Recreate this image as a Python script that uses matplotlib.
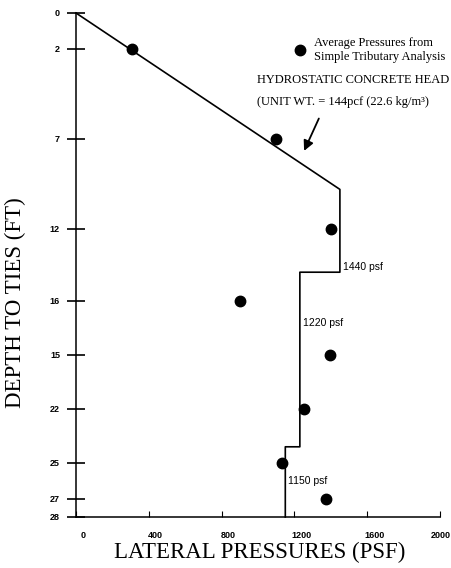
import matplotlib
matplotlib.use("Agg")
import matplotlib.pyplot as plt
import matplotlib.transforms as mtransforms

# measured tie pressures (psf) vs depth (ft)
depths = [2, 7, 12, 16, 19, 22, 25, 27]
pressures = [310, 1100, 1400, 900, 1395, 1250, 1130, 1375]

# design envelope: hydrostatic to ~1440 psf, then stepped
env_press = [0, 1450, 1450, 1230, 1230, 1150, 1150]
env_depth = [0, 9.8, 14.4, 14.4, 24.1, 24.1, 28]

yticks = [0, 2, 7, 12, 16, 19, 22, 25, 27, 28]
ytick_labels = ["0", "2", "7", "12", "16", "15", "22", "25", "27", "28"]
xticks = [0, 400, 800, 1200, 1600, 2000]

W, H = 452, 568
fig = plt.figure(figsize=(W / 100, H / 100), dpi=100)
ax = fig.add_axes([76 / W, 1 - 517 / H, 364 / W, 504 / H])

ax.plot(env_press, env_depth, color="black", lw=1.2, clip_on=False)
pts, = ax.plot(pressures, depths, "o", color="black", ms=7.5, clip_on=False,
               label="Average Pressures from\nSimple Tributary Analysis")

ax.set_xlim(0, 2000)
ax.set_ylim(28, 0)
for s in ["top", "right"]:
    ax.spines[s].set_visible(False)
for s in ["left", "bottom"]:
    ax.spines[s].set_linewidth(1.1)

ax.set_yticks(yticks)
ax.set_yticklabels(ytick_labels, fontfamily="Liberation Sans", fontweight="bold", fontsize=6.5)
ax.set_xticks(xticks)
ax.set_xticklabels([str(v) for v in xticks], fontfamily="Liberation Sans", fontweight="bold", fontsize=6.5)
ax.tick_params(axis="y", direction="inout", length=13, width=1.2, pad=5)
ax.tick_params(axis="x", direction="in", length=4, width=0.8, pad=10)
labs = ax.get_xticklabels()
for i, lab in enumerate(labs):
    dx = 7 if i < len(labs) - 1 else 1
    shift = mtransforms.ScaledTranslation(dx / 100, 0, fig.dpi_scale_trans)
    lab.set_transform(lab.get_transform() + shift)

fig.text(260 / W, 1 - 552 / H, "LATERAL PRESSURES (PSF)", family="Liberation Serif",
         fontsize=16.5, ha="center", va="center")
fig.text(15 / W, 1 - 303 / H, "DEPTH TO TIES (FT)", family="Liberation Serif",
         fontsize=16.5, ha="center", va="center", rotation=90)

fig.legend(handles=[pts], loc="center left", bbox_to_anchor=(294 / W, 1 - 50 / H),
           frameon=False, prop={"family": "Liberation Serif", "size": 9},
           handletextpad=0.6, handlelength=1.0, borderaxespad=0, borderpad=0)

fig.text(257 / W, 1 - 80 / H, "HYDROSTATIC CONCRETE HEAD", family="Liberation Serif",
         fontsize=9, ha="left", va="center")
fig.text(257 / W, 1 - 102 / H, "(UNIT WT. = 144pcf (22.6 kg/m\u00b3)", family="Liberation Serif",
         fontsize=9, ha="left", va="center")
ax.annotate("", xy=(1247, 7.8), xytext=(320 / W, 1 - 116 / H), textcoords="figure fraction",
            arrowprops=dict(arrowstyle="-|>", color="black", lw=1.3, mutation_scale=15))

for p, d, txt in [(1450, 14.1, "1440 psf"), (1230, 17.2, "1220 psf"), (1150, 26.0, "1150 psf")]:
    ax.annotate(txt, xy=(p, d), xytext=(2, 0), textcoords="offset points",
                fontsize=7.5, family="Liberation Sans", ha="left", va="center")

fig.savefig("out.png", dpi=100)
